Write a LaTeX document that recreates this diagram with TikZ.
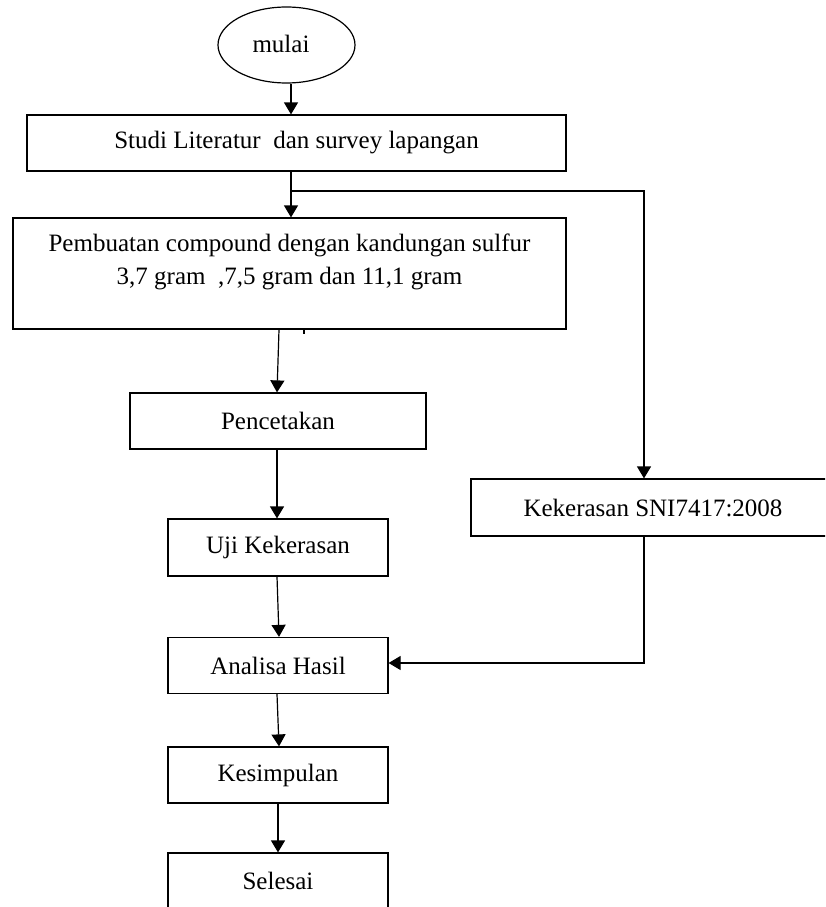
\documentclass[tikz,border=0pt]{standalone}
\usepackage{fontspec}
\setmainfont{Liberation Serif}
\usetikzlibrary{arrows.meta,shapes.geometric}
\begin{document}
\begin{tikzpicture}[x=1pt,y=-1pt,
  every node/.style={font=\fontsize{25}{33}\selectfont, inner sep=0pt, line width=1.2pt},
  boxnode/.style={draw, rectangle},
  startnode/.style={draw, ellipse},
  txt/.style={align=center},
  conn/.style={line width=1.2pt},
  arr/.style={line width=1.2pt, -{Triangle[length=12pt,width=14pt]}}]
\useasboundingbox (0,0) rectangle (825,907);
\clip (0,0) rectangle (825,907);
% nodes
\node[startnode, minimum width=137pt, minimum height=76pt] (mulai) at (286.5,45) {};
\node (mulaitxt) at (281,44) {mulai};
\node[boxnode, minimum width=539pt, minimum height=56pt] (studi) at (296.5,143) {Studi Literatur\ \ dan survey lapangan};
\node[boxnode, minimum width=553pt, minimum height=111pt] (pemb) at (289.5,273.5) {};
\node[txt] (pembtxt) at (289.5,261.5) {Pembuatan compound dengan kandungan sulfur\\3,7 gram\ \ ,7,5 gram dan 11,1 gram};
\node[boxnode, minimum width=296pt, minimum height=56pt] (penc) at (278,421) {Pencetakan};
\node[boxnode, minimum width=220pt, minimum height=57pt] (uji) at (278,547.5) {Uji Kekerasan};
\node[boxnode, minimum width=220pt, minimum height=56pt] (anal) at (278,665.5) {Analisa Hasil};
\node[boxnode, minimum width=220pt, minimum height=56pt] (kes) at (278,775) {Kesimpulan};
\node[boxnode, minimum width=220pt, minimum height=56pt] (sel) at (278,881) {Selesai};
\node[boxnode, minimum width=364pt, minimum height=57pt] (kek) at (653,507.5) {Kekerasan SNI7417:2008};
% connectors
\coordinate (br) at (291,191);
\draw[arr] ([xshift=4.5pt]mulai.south) -- ([xshift=-5.5pt]studi.north);
\draw[arr] ([xshift=-5.5pt]studi.south) -- ([xshift=1.5pt]pemb.north);
\draw[arr] (br) -| ([xshift=-9pt]kek.north);
\draw[arr] ([xshift=-10.5pt]pemb.south) -- ([xshift=-1pt]penc.north);
\draw[conn] ([xshift=14.5pt]pemb.south) -- ++(0,4);
\draw[arr] ([xshift=-1pt]penc.south) -- ([xshift=-1pt]uji.north);
\draw[arr] ([xshift=-1pt]uji.south) -- ([xshift=1pt]anal.north);
\draw[arr] ([xshift=-9pt]kek.south) |- ([yshift=2.5pt]anal.east);
\draw[arr] ([xshift=-1pt]anal.south) -- ([xshift=1pt]kes.north);
\draw[arr] (kes.south) -- (sel.north);
\end{tikzpicture}
\end{document}
